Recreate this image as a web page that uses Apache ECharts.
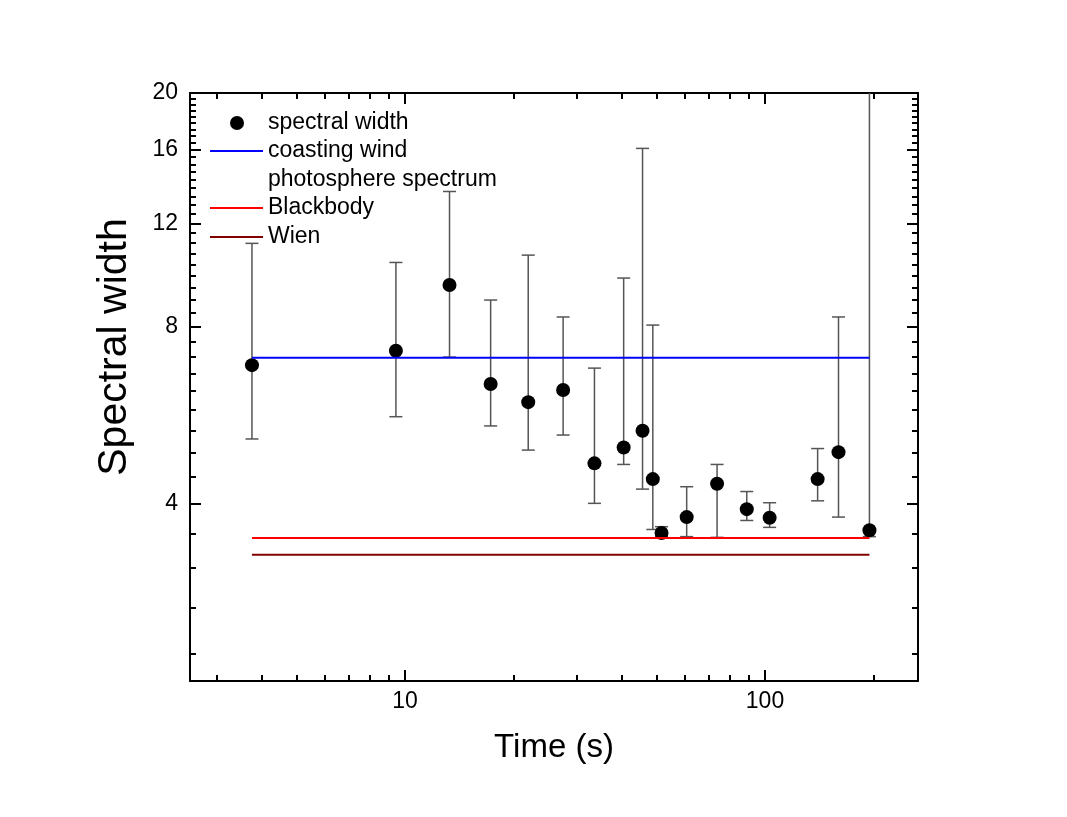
<!DOCTYPE html>
<html>
<head>
<meta charset="utf-8">
<script src="https://cdn.jsdelivr.net/npm/echarts@6/dist/echarts.min.js"></script>
<style>
  html, body { margin: 0; padding: 0; background: #fff; }
  #chart { width: 1067px; height: 817px; }
</style>
</head>
<body>
<div id="chart"></div>
<script>
// measured points: time (s), spectral width and its error range
const times = [3.76, 9.44, 13.3, 17.3, 22.0, 27.5, 33.6, 40.5, 45.7, 48.8, 51.6, 60.6, 73.6, 89.0, 103, 140, 160, 195]
const widths = [6.89, 7.29, 9.43, 6.40, 5.96, 6.25, 4.69, 4.99, 5.33, 4.41, 3.57, 3.80, 4.33, 3.92, 3.79, 4.41, 4.90, 3.61]
const widthLow = [5.16, 5.63, 7.11, 5.43, 4.94, 5.24, 4.01, 4.67, 4.24, 3.62, 3.52, 3.52, 3.51, 3.75, 3.65, 4.05, 3.80, 3.52]
const widthHigh = [11.1, 10.3, 13.6, 8.89, 10.6, 8.32, 6.81, 9.69, 16.1, 8.06, 3.66, 4.28, 4.67, 4.20, 4.02, 4.97, 8.32, 24]

// model levels, drawn over the time span of the data
const modelTimes = [3.76, 195]
const coastingWind = [7.09, 7.09]
const blackbody = [3.50, 3.50]
const wien = [3.28, 3.28]

const legendNames = ['spectral width', 'coasting wind\nphotosphere spectrum', 'Blackbody', 'Wien']

// axes
const xRange = [2.53, 266]
const yRange = [2, 20]
const xTickLabels = [10, 100]
const xMinorTicks = [3, 4, 5, 6, 7, 8, 9, 20, 30, 40, 50, 60, 70, 80, 90, 200]
const yTickLabels = [4, 8, 12, 16, 20]
const yMinorTicks = []
for (let k = 5; k <= 44; k++) {
  if (k % 9 !== 0) yMinorTicks.push(4 * k / 9)
}

const FONT = '"Liberation Sans", Arial, Helvetica, sans-serif'
const colors = { blue: '#0000ff', red: '#ff0000', wien: '#800000', bar: '#555555' }

function makeAxis (dim, position, range, ticks, tickLen, withLine, labels) {
  const axis = {
    type: 'log',
    position,
    min: range[0],
    max: range[1],
    splitLine: { show: false },
    axisLine: { show: withLine, lineStyle: { color: '#000', width: 2 } },
    axisTick: {
      show: true,
      inside: true,
      length: tickLen,
      customValues: ticks,
      lineStyle: { color: '#000', width: 2 }
    },
    axisLabel: { show: false }
  }
  if (labels) {
    axis.axisLabel = {
      show: true,
      customValues: labels,
      color: '#000',
      fontFamily: FONT,
      fontSize: 23,
      margin: dim === 'x' ? 9 : 12,
      formatter: v => String(Math.round(v))
    }
  }
  return axis
}

const xAxes = [
  makeAxis('x', 'bottom', xRange, xTickLabels, 11, true, xTickLabels),
  makeAxis('x', 'bottom', xRange, xMinorTicks, 6, false),
  makeAxis('x', 'top', xRange, xTickLabels, 11, true),
  makeAxis('x', 'top', xRange, xMinorTicks, 6, false)
]
Object.assign(xAxes[0], {
  name: 'Time (s)',
  nameLocation: 'middle',
  nameGap: 50,
  nameTextStyle: { fontFamily: FONT, fontSize: 33, color: '#000' }
})

const yAxes = [
  makeAxis('y', 'left', yRange, yTickLabels, 11, true, yTickLabels),
  makeAxis('y', 'left', yRange, yMinorTicks, 6, false),
  makeAxis('y', 'right', yRange, yTickLabels, 11, true),
  makeAxis('y', 'right', yRange, yMinorTicks, 6, false)
]
Object.assign(yAxes[0], {
  name: 'Spectral width',
  nameLocation: 'middle',
  nameGap: 55,
  nameTextStyle: { fontFamily: FONT, fontSize: 41, color: '#000', padding: [0, 0, 0, 80] }
})

const barData = times.map((t, i) => [t, widthLow[i], widthHigh[i]])
const pointData = times.map((t, i) => [t, widths[i]])
const pairs = (ys) => modelTimes.map((t, i) => [t, ys[i]])

function renderErrorBar (params, api) {
  const x = api.value(0)
  const lo = api.coord([x, api.value(1)])
  const hi = api.coord([x, api.value(2)])
  const cs = params.coordSys
  const top = Math.max(hi[1], cs.y)
  const bottom = Math.min(lo[1], cs.y + cs.height)
  const half = 6.5
  const style = { stroke: colors.bar, lineWidth: 1.5 }
  const children = [
    { type: 'line', shape: { x1: lo[0], y1: top, x2: lo[0], y2: bottom }, style }
  ]
  if (hi[1] >= cs.y) {
    children.push({ type: 'line', shape: { x1: hi[0] - half, y1: hi[1], x2: hi[0] + half, y2: hi[1] }, style })
  }
  children.push({ type: 'line', shape: { x1: lo[0] - half, y1: lo[1], x2: lo[0] + half, y2: lo[1] }, style })
  return { type: 'group', children }
}

function lineSeries (name, data, color) {
  return {
    name,
    type: 'line',
    data,
    symbol: 'none',
    z: 5,
    lineStyle: { color, width: 2 },
    itemStyle: { color }
  }
}

// legend drawn by hand so the two-line entry keeps its line beside the first row
const lgX = 210
const lgTextX = 268
const lgRows = [123, 151, 208, 237]
const lgColors = [null, colors.blue, colors.red, colors.wien]
const legendGraphics = []
legendNames.forEach((name, i) => {
  const y = lgRows[i]
  if (i === 0) {
    legendGraphics.push({ type: 'circle', shape: { cx: lgX + 27, cy: y, r: 7 }, style: { fill: '#000' } })
  } else {
    legendGraphics.push({ type: 'line', shape: { x1: lgX, y1: y, x2: lgX + 53, y2: y }, style: { stroke: lgColors[i], lineWidth: 2 } })
  }
  legendGraphics.push({
    type: 'text',
    x: lgTextX,
    y: y - 14.5,
    style: { text: name, font: '23px ' + FONT, fill: '#000', lineHeight: 29, textVerticalAlign: 'top' }
  })
})

const chart = echarts.init(document.getElementById('chart'), null, { renderer: 'canvas' })
chart.setOption({
  animation: false,
  backgroundColor: '#fff',
  grid: { left: 190, right: 149, top: 93, bottom: 136, containLabel: false },
  xAxis: xAxes,
  yAxis: yAxes,
  graphic: legendGraphics,
  series: [
    {
      name: 'error',
      type: 'custom',
      renderItem: renderErrorBar,
      data: barData,
      z: 2
    },
    {
      name: legendNames[0],
      type: 'scatter',
      data: pointData,
      symbol: 'circle',
      symbolSize: 14,
      z: 3,
      itemStyle: { color: '#000', opacity: 1 }
    },
    lineSeries(legendNames[1], pairs(coastingWind), colors.blue),
    lineSeries(legendNames[2], pairs(blackbody), colors.red),
    lineSeries(legendNames[3], pairs(wien), colors.wien)
  ]
})
</script>
</body>
</html>
